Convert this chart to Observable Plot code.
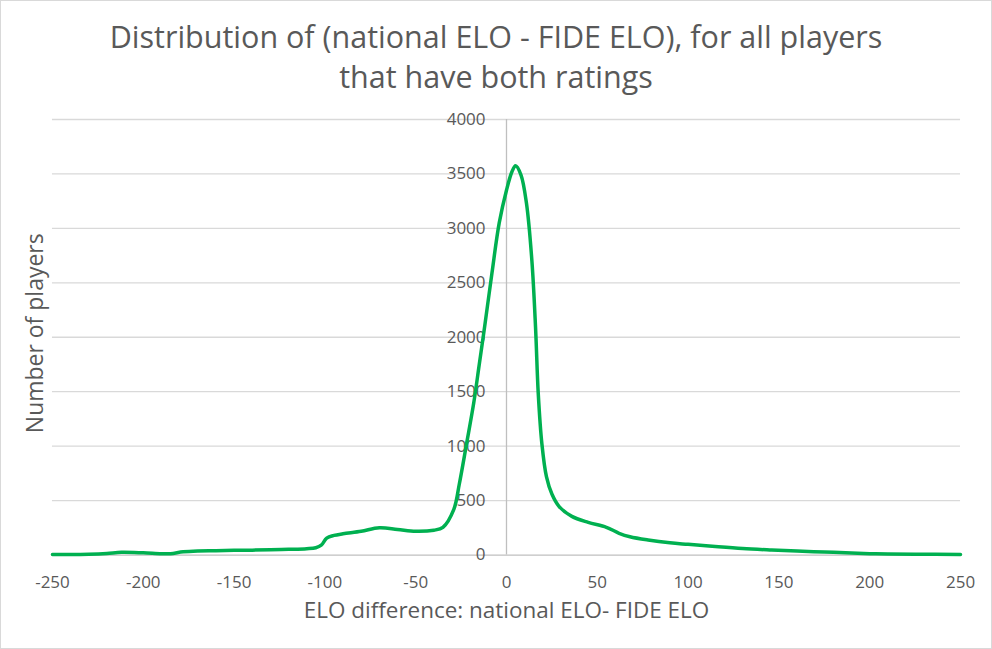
<!DOCTYPE html>
<html><head><meta charset="utf-8">
<script src="https://cdn.jsdelivr.net/npm/d3@7"></script>
<script src="https://cdn.jsdelivr.net/npm/@observablehq/plot@0.6"></script>
<style>
body{margin:0;background:#fff;}
#wrap{position:relative;width:992px;height:649px;box-sizing:border-box;border:1px solid #d9d9d9;font-family:"Open Sans",sans-serif;color:#595959;overflow:hidden;background:#fff}
#title{position:absolute;left:0;top:15px;width:100%;text-align:center;font-size:30.5px;line-height:40px;}
#chart{position:absolute;left:-1px;top:99px;}
</style></head><body>
<div id="wrap"><div id="title">Distribution of (national ELO - FIDE ELO), for all players<br>that have both ratings</div><div id="chart"></div></div>
<script>
const eloDiff = [-250,-240,-230,-220,-212,-200,-190,-185,-178,-170,-160,-150,-140,-130,-120,-110,-105,-102,-99,-95,-90,-80,-70,-60,-50,-40,-35,-29,-26,-22,-18,-15,-12,-8,-4,0,3,5,8,11,14,16,17.5,19.5,22,25,29,36,45,55,62,68,78,90,100,115,130,145,160,175,190,200,210,225,250];
const players = [5,5,8,15,25,20,12,12,30,38,40,43,45,48,52,58,67,90,155,180,195,218,250,235,218,228,255,420,650,1020,1400,1750,2100,2590,3050,3350,3520,3575,3490,3230,2700,2090,1480,1020,720,560,445,355,300,255,200,168,138,112,98,78,60,47,36,28,18,12,9,7,6];
const xTicks = [-250,-200,-150,-100,-50,0,50,100,150,200,250];
const yTicks = [0,500,1000,1500,2000,2500,3000,3500,4000];
const xLabel = "ELO difference: national ELO- FIDE ELO";
const yLabel = "Number of players";
const data = eloDiff.map((x,i)=>({x, y: players[i]}));
const plot = Plot.plot({
  width: 992, height: 549,
  marginLeft: 52, marginRight: 31, marginTop: 19, marginBottom: 94,
  x: {domain: [-250,250], axis: null},
  y: {domain: [0,4000], axis: null},
  style: {fontFamily: "'Open Sans', sans-serif", fontSize: "17px", color: "#595959", background: "transparent"},
  marks: [
    Plot.ruleY(yTicks.filter(d=>d>0), {stroke: "#d9d9d9", strokeWidth: 1.3}),
    Plot.ruleY([0], {stroke: "#bfbfbf", strokeWidth: 1.3}),
    Plot.ruleX([0], {y1: 0, y2: 4000, stroke: "#bfbfbf", strokeWidth: 1.3}),
    Plot.text(yTicks, {x: 0, y: d=>d, text: d=>String(d), textAnchor: "end", dx: -21, fill: "#595959", fontSize: 17}),
    Plot.text(xTicks, {x: d=>d, y: 0, dy: 28, text: d=>String(d), fill: "#595959", fontSize: 17}),
    Plot.line(data, {x: "x", y: "y", stroke: "#00b050", strokeWidth: 3.5, curve: "catmull-rom"}),
    Plot.text([xLabel], {frameAnchor: "bottom", dy: 63, text: d=>d, fill: "#595959", fontSize: 22.5}),
    Plot.text([yLabel], {frameAnchor: "left", textAnchor: "middle", dx: -17, dy: -4, rotate: -90, text: d=>d, fill: "#595959", fontSize: 23})
  ]
});
document.getElementById("chart").appendChild(plot);
</script>
</body></html>
